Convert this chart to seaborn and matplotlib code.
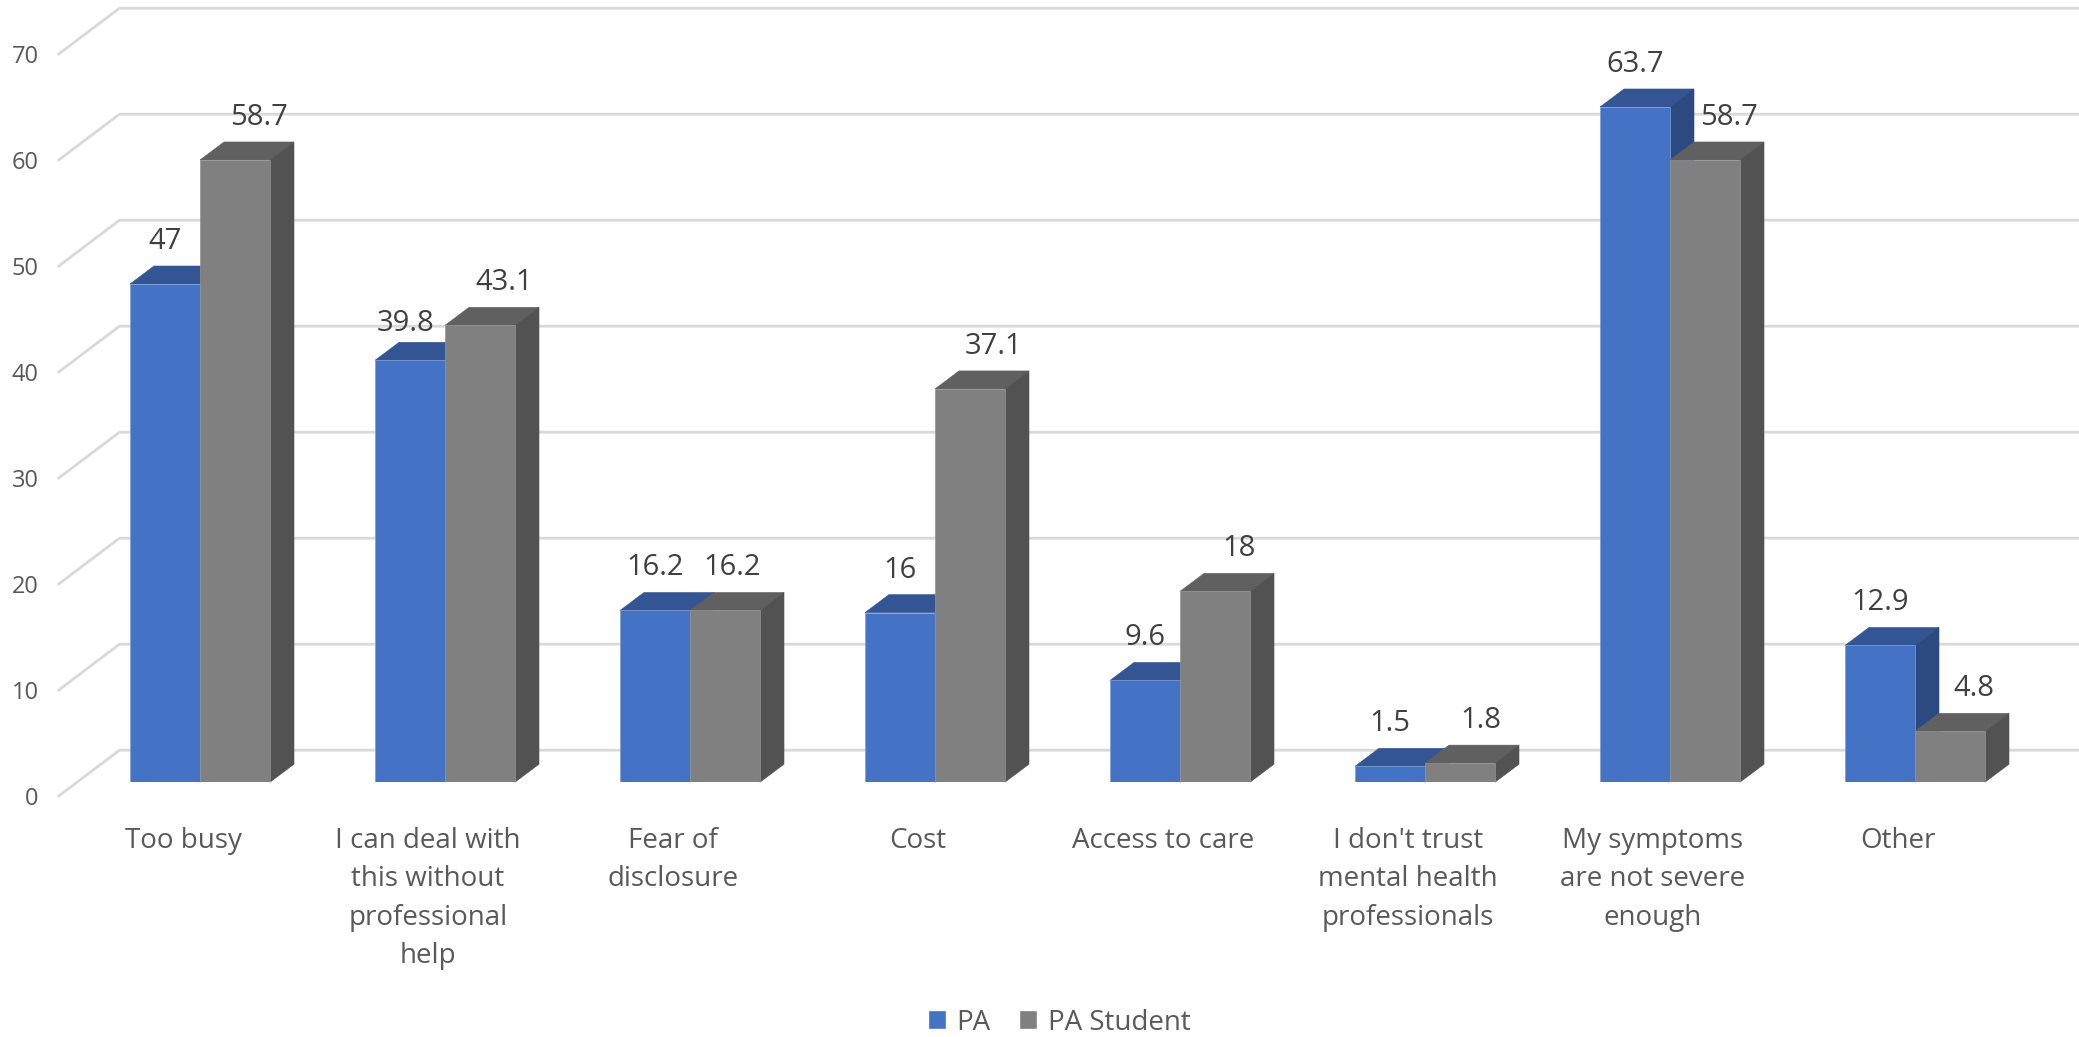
"""
Barriers to seeking mental health care, PA vs PA students (3D style columns).
"""
import matplotlib
matplotlib.use('Agg')
import matplotlib.pyplot as plt
from matplotlib.patches import Polygon
from matplotlib.transforms import ScaledTranslation
import pandas as pd
import seaborn as sns

CATEGORIES = [
    'Too busy',
    'I can deal with\nthis without\nprofessional\nhelp',
    'Fear of\ndisclosure',
    'Cost',
    'Access to care',
    "I don't trust\nmental health\nprofessionals",
    'My symptoms\nare not severe\nenough',
    'Other',
]
PA_VALUES = [47, 39.8, 16.2, 16, 9.6, 1.5, 63.7, 12.9]
STUDENT_VALUES = [58.7, 43.1, 16.2, 37.1, 18, 1.8, 58.7, 4.8]
SERIES = ['PA', 'PA Student']
Y_TICKS = [0, 10, 20, 30, 40, 50, 60, 70]

WIDTH, HEIGHT = 2079, 1037
DPI = 100

# colours per series: front, top, side, front edge
COLOURS = {
    'PA': ('#4472C4', '#335593', '#2A4A80', '#7F9FD8'),
    'PA Student': ('#808080', '#606060', '#525252', '#949494'),
}

# label offsets that were moved by hand in the original, in pixels
LABEL_NUDGE = {
    ('PA', 1): (-4, 6),
    ('PA Student', 2): (-17, 0),
    ('PA Student', 5): (-3, 0),
}


def px_shift(fig, dx, dy):
    return ScaledTranslation(dx / DPI, dy / DPI, fig.dpi_scale_trans)


df = pd.DataFrame({
    'reason': CATEGORIES * 2,
    'percent': PA_VALUES + STUDENT_VALUES,
    'group': [SERIES[0]] * len(CATEGORIES) + [SERIES[1]] * len(CATEGORIES),
})

sns.set_theme(style='white')
plt.rcParams['font.family'] = ['Open Sans', 'DejaVu Sans']

fig = plt.figure(figsize=(WIDTH / DPI, HEIGHT / DPI), dpi=DPI)
ax = fig.add_axes([77.5 / WIDTH, (HEIGHT - 782.2) / HEIGHT, 1960 / WIDTH, 742 / HEIGHT])

sns.barplot(
    data=df, x='reason', y='percent', hue='group', hue_order=SERIES,
    palette={s: COLOURS[s][0] for s in SERIES},
    width=140 / 245, gap=0, saturation=1, ax=ax,
)

ax.set_xlim(-0.5, 7.5)
ax.set_ylim(0, 70)
ax.set_xlabel('')
ax.set_ylabel('')
sns.despine(ax=ax, left=True, bottom=True)

x_per_px = 8 / 1960
y_per_px = 70 / 742

# walls: left edge runs front to back, then along the back wall
for tick in Y_TICKS:
    ax.plot(
        [-0.5 - 19 * x_per_px, -0.5 + 42 * x_per_px, 7.5 + 42 * x_per_px],
        [tick - 14 * y_per_px, tick + 32 * y_per_px, tick + 32 * y_per_px],
        color='#D9D9D9', lw=2, clip_on=False, zorder=0.5, solid_capstyle='round',
    )

depth_x = 24 * x_per_px
depth_y = 18 * y_per_px

for i, (name, bars) in enumerate(zip(SERIES, ax.containers)):
    front, top, side, edge = COLOURS[name]
    for j, bar in enumerate(bars):
        x0 = bar.get_x()
        x1 = x0 + bar.get_width()
        h = bar.get_height()
        bar.set_zorder(3 + 2 * i)
        bar.set_edgecolor(edge)
        bar.set_linewidth(0.5)
        ax.add_patch(Polygon(
            [(x0, h), (x0 + depth_x, h + depth_y), (x1 + depth_x, h + depth_y), (x1, h)],
            facecolor=top, edgecolor=top, lw=0.4, clip_on=False, zorder=2 + 2 * i,
        ))
        ax.add_patch(Polygon(
            [(x1, 0), (x1 + depth_x, depth_y), (x1 + depth_x, h + depth_y), (x1, h)],
            facecolor=side, edgecolor=side, lw=0.4, clip_on=False, zorder=2 + 2 * i,
        ))
        # first series sits over the bar centre, second is pushed along the depth
        nudge_x, nudge_y = LABEL_NUDGE.get((name, j), (0, 0))
        ax.annotate(
            '{:g}'.format(h), (x0 + (x1 - x0) / 2, h),
            xytext=(((24 if i else 0) + nudge_x) * 72 / DPI, (42.5 - nudge_y) * 72 / DPI),
            textcoords='offset points', ha='center', va='center',
            fontsize=21, color='#404040', zorder=10, annotation_clip=False,
        )

ax.set_yticks(Y_TICKS)
ax.tick_params(axis='y', length=0, pad=28, labelsize=17, labelcolor='#595959')
ax.tick_params(axis='x', length=0, pad=32, labelsize=20, labelcolor='#595959')
for label in ax.get_yticklabels():
    label.set_transform(label.get_transform() + px_shift(fig, 0, -14))
for label in ax.get_xticklabels():
    label.set_transform(label.get_transform() + px_shift(fig, -17, 0))
    label.set_linespacing(1.5)

sns.move_legend(
    ax, 'center', bbox_to_anchor=(1059 / WIDTH, (HEIGHT - 1022.5) / HEIGHT),
    bbox_transform=fig.transFigure, ncol=2, frameon=False, title=None,
    fontsize=20, labelcolor='#595959', handlelength=0.65, handleheight=0.65,
    handletextpad=0.4, columnspacing=1.0,
)

fig.savefig('out.png', dpi=DPI)
